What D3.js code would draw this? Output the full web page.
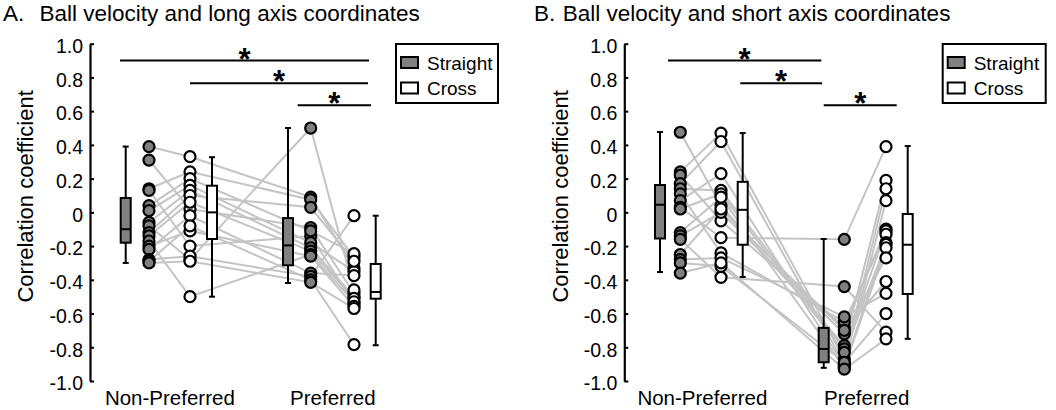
<!DOCTYPE html>
<html>
<head>
<meta charset="utf-8">
<script src="https://cdn.jsdelivr.net/npm/d3@7"></script>
<style>
  html, body { margin: 0; padding: 0; background: #fff; }
  svg { display: block; font-family: "Liberation Sans", Arial, sans-serif; }
</style>
</head>
<body>
<svg id="chart" width="1056" height="410"></svg>
<script>
// ---------- DATA ----------
const groups = ["Non-Preferred", "Preferred"];
const conditions = ["Straight", "Cross"];
const tickValues = [1.0, 0.8, 0.6, 0.4, 0.2, 0, -0.2, -0.4, -0.6, -0.8, -1.0];
const tickLabels = ["1.0", "0.8", "0.6", "0.4", "0.2", "0", "-0.2", "-0.4", "-0.6", "-0.8", "-1.0"];

// Panel A: Ball velocity and long axis coordinates (per subject)
const longNPStraight = [0.39, 0.31, 0.14, 0.13, 0.04, 0.01, -0.06, -0.08, -0.12, -0.14, -0.17, -0.20, -0.22, -0.28, -0.29, -0.30];
const longNPCross    = [0.33, 0.02, 0.24, -0.20, 0.20, 0.16, 0.13, -0.28, 0.10, 0.06, -0.50, -0.11, -0.02, -0.26, -0.08, -0.29];
const longPStraight  = [0.09, -0.09, 0.075, -0.14, -0.11, -0.18, -0.21, 0.50, 0.03, -0.23, -0.25, -0.26, -0.36, -0.38, -0.40, -0.415];
const longPCross     = [-0.33, -0.48, -0.265, -0.54, -0.245, -0.35, -0.50, -0.46, -0.29, -0.51, -0.53, -0.557, -0.375, -0.02, -0.784, -0.57];
// box stats: [whiskerLow, q1, median, q3, whiskerHigh]
const longBoxNPStraight = [-0.30, -0.18, -0.10, 0.085, 0.39];
const longBoxNPCross    = [-0.50, -0.158, 0.0, 0.158, 0.327];
const longBoxPStraight  = [-0.419, -0.314, -0.196, -0.034, 0.50];
const longBoxPCross     = [-0.788, -0.512, -0.472, -0.306, -0.02];

// Panel B: Ball velocity and short axis coordinates (per subject)
const shortNPStraight = [0.475, 0.24, 0.22, 0.17, 0.14, 0.11, 0.07, 0.03, 0.02, -0.12, -0.14, -0.16, -0.25, -0.28, -0.30, -0.36];
const shortNPCross    = [0.04, 0.47, -0.05, 0.42, 0.13, -0.24, 0.23, -0.15, 0.11, 0.09, 0.0, -0.385, 0.02, -0.27, -0.32, -0.30];
const shortPStraight  = [-0.79, -0.87, -0.68, -0.90, -0.81, -0.65, -0.91, -0.16, -0.83, -0.92, -0.72, -0.44, -0.70, -0.62, -0.89, -0.93];
const shortPCross     = [0.19, 0.14, -0.10, 0.07, -0.11, -0.13, -0.18, 0.39, -0.19, -0.21, -0.27, -0.71, -0.41, -0.48, -0.60, -0.75];
const shortBoxNPStraight = [-0.354, -0.155, 0.045, 0.162, 0.476];
const shortBoxNPCross    = [-0.383, -0.192, 0.015, 0.181, 0.47];
const shortBoxPStraight  = [-0.922, -0.889, -0.81, -0.685, -0.158];
const shortBoxPCross     = [-0.75, -0.484, -0.192, -0.01, 0.393];

// significance bracket heights (correlation units)
const sigLevels = [0.9, 0.765, 0.635];

// ---------- LAYOUT ----------
const svg = d3.select("#chart");
const font = "'Liberation Sans', Arial, sans-serif";
const y = d3.scaleLinear().domain([-1, 1]).range([381, 43.7]);

const panels = [
  {
    letter: "A.", title: "Ball velocity and long axis coordinates", letterX: 3, titleX: 39.5,
    axisX: 90, ytitleX: 33,
    cols: { boxNPS: 125.7, ptsNPS: 149, ptsNPC: 190, boxNPC: 212, boxPS: 288, ptsPS: 310.7, ptsPC: 354, boxPC: 375.7 },
    data: [longNPStraight, longNPCross, longPStraight, longPCross],
    boxes: [longBoxNPStraight, longBoxNPCross, longBoxPStraight, longBoxPCross],
    sigPx: [[120, 369], [190, 368], [297.7, 371]],
    legendX: 396, legendW: 102
  },
  {
    letter: "B.", title: "Ball velocity and short axis coordinates", letterX: 534, titleX: 562.7,
    axisX: 624.3, ytitleX: 568,
    cols: { boxNPS: 660, ptsNPS: 680.3, ptsNPC: 721, boxNPC: 742.7, boxPS: 823.7, ptsPS: 844.3, ptsPC: 886, boxPC: 907.7 },
    data: [shortNPStraight, shortNPCross, shortPStraight, shortPCross],
    boxes: [shortBoxNPStraight, shortBoxNPCross, shortBoxPStraight, shortBoxPCross],
    sigPx: [[668, 821.3], [740.3, 822], [823.7, 896.7]],
    legendX: 942.7, legendW: 103
  }
];

const grayFill = "#808080";
const lineGray = "#c4c4c4";

panels.forEach(p => {
  const g = svg.append("g");

  // titles
  g.append("text").attr("x", p.letterX).attr("y", 21).attr("font-size", 22.5).attr("font-family", font).text(p.letter);
  g.append("text").attr("x", p.titleX).attr("y", 21).attr("font-size", 22.5).attr("font-family", font).text(p.title);

  // y axis
  const axis = d3.axisLeft(y).tickValues(tickValues)
    .tickFormat((d, i) => tickLabels[i]).tickSizeInner(-4).tickSizeOuter(0).tickPadding(7);
  const ag = g.append("g").attr("transform", `translate(${p.axisX},0)`).call(axis);
  ag.select(".domain").attr("stroke", "#000").attr("stroke-width", 2.2);
  ag.selectAll(".tick line").attr("stroke", "#000").attr("stroke-width", 2);
  ag.selectAll(".tick text").attr("font-size", 19.5).attr("font-family", font).attr("fill", "#000").attr("dy", "0.45em");

  // y title
  g.append("text")
    .attr("transform", `translate(${p.ytitleX},${(y(0.2) + y(-0.2)) / 2 - 16}) rotate(-90)`)
    .attr("text-anchor", "middle").attr("font-size", 22).attr("font-family", font)
    .text("Correlation coefficient");

  // x category labels
  const xGroupCenters = [
    (p.cols.boxNPS + p.cols.boxNPC) / 2,
    (p.cols.boxPS + p.cols.boxPC) / 2
  ];
  groups.forEach((gname, i) => {
    g.append("text").attr("x", xGroupCenters[i] + 1).attr("y", 405)
      .attr("text-anchor", "middle").attr("font-size", 20.5).attr("font-family", font).text(gname);
  });

  // subject lines (NP straight -> NP cross -> P straight -> P cross)
  const ptCols = [p.cols.ptsNPS, p.cols.ptsNPC, p.cols.ptsPS, p.cols.ptsPC];
  const n = p.data[0].length;
  const line = d3.line().x(d => d[0]).y(d => y(d[1]));
  const subjects = d3.range(n).map(i => p.data.map((col, c) => [ptCols[c], col[i]]));
  g.append("g").selectAll("path").data(subjects).join("path")
    .attr("d", line).attr("fill", "none").attr("stroke", lineGray).attr("stroke-width", 2);

  // points
  p.data.forEach((col, c) => {
    const straight = c % 2 === 0;
    g.append("g").selectAll("circle").data(col).join("circle")
      .attr("cx", ptCols[c]).attr("cy", d => y(d)).attr("r", 5.5)
      .attr("fill", straight ? grayFill : "#fff").attr("stroke", "#000").attr("stroke-width", 2.2);
  });

  // boxplots
  const boxCols = [p.cols.boxNPS, p.cols.boxNPC, p.cols.boxPS, p.cols.boxPC];
  const bw = 10, cap = 3;
  p.boxes.forEach((b, c) => {
    const cx = boxCols[c];
    const straight = c % 2 === 0;
    const bg = g.append("g");
    bg.append("line").attr("x1", cx).attr("x2", cx).attr("y1", y(b[0])).attr("y2", y(b[4]))
      .attr("stroke", "#000").attr("stroke-width", 2);
    [b[0], b[4]].forEach(v => {
      bg.append("line").attr("x1", cx - cap).attr("x2", cx + cap).attr("y1", y(v)).attr("y2", y(v))
        .attr("stroke", "#000").attr("stroke-width", 2);
    });
    bg.append("rect").attr("x", cx - bw / 2).attr("y", y(b[3])).attr("width", bw).attr("height", y(b[1]) - y(b[3]))
      .attr("fill", straight ? grayFill : "#fff").attr("stroke", "#000").attr("stroke-width", 2);
    bg.append("line").attr("x1", cx - bw / 2).attr("x2", cx + bw / 2).attr("y1", y(b[2])).attr("y2", y(b[2]))
      .attr("stroke", "#000").attr("stroke-width", 2);
  });

  // significance bars
  p.sigPx.forEach((xs, i) => {
    const yy = y(sigLevels[i]);
    g.append("line").attr("x1", xs[0]).attr("x2", xs[1]).attr("y1", yy).attr("y2", yy)
      .attr("stroke", "#000").attr("stroke-width", 2);
    g.append("text").attr("x", (xs[0] + xs[1]) / 2).attr("y", yy + 9)
      .attr("text-anchor", "middle").attr("font-size", 31).attr("font-weight", "bold")
      .attr("font-family", font).text("*");
  });

  // legend
  const lg = g.append("g").attr("transform", `translate(${p.legendX},44)`);
  lg.append("rect").attr("x", 0).attr("y", 0).attr("width", p.legendW).attr("height", 59)
    .attr("fill", "#fff").attr("stroke", "#000").attr("stroke-width", 2);
  conditions.forEach((cname, i) => {
    lg.append("rect").attr("x", 5).attr("y", 13 + i * 25.5).attr("width", 17).attr("height", 11)
      .attr("fill", i === 0 ? grayFill : "#fff").attr("stroke", "#000").attr("stroke-width", 2);
    lg.append("text").attr("x", 31).attr("y", 25.5 + i * 25.5).attr("font-size", 19).attr("font-family", font).text(cname);
  });
});
</script>
</body>
</html>
